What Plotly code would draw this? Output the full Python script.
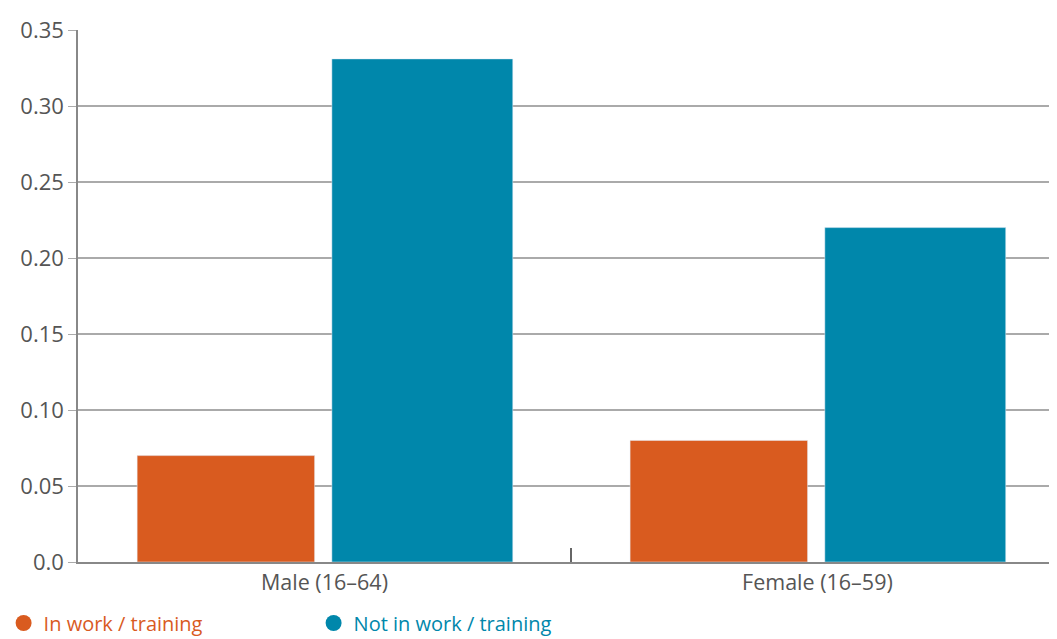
import plotly.graph_objects as go

categories = ["Male (16–64)", "Female (16–59)"]
in_work = [0.07, 0.08]
not_in_work = [0.331, 0.22]
orange = "#d95b1f"
blue = "#0087ab"

fig = go.Figure()
xs = [0, 1]
fig.add_bar(x=xs, y=in_work, width=0.36, offset=-0.38, marker_color=orange, showlegend=False)
fig.add_bar(x=xs, y=not_in_work, width=0.367, offset=0.015, marker_color=blue, showlegend=False)
for name, c in [("In work / training", orange), ("Not in work / training", blue)]:
    fig.add_scatter(x=[None], y=[None], mode="markers",
                    marker=dict(symbol="circle", size=22, color=c),
                    name=f"<span style='color:{c}'>{name}</span>")

fig.update_layout(
    width=1049, height=631, plot_bgcolor="white", paper_bgcolor="white",
    margin=dict(l=70, r=0, t=22, b=77, autoexpand=False),
    font=dict(family="Open Sans, Lato, sans-serif", size=21, color="#555"),
    legend=dict(orientation="h", x=-0.076, y=-0.078, xanchor="left", yanchor="top",
                font=dict(size=20), itemwidth=30, entrywidth=265, tracegroupgap=0),
)
fig.update_xaxes(range=[-0.5, 1.486], tickvals=xs, ticktext=categories, ticks="", automargin=False,
                 tickfont=dict(size=21.5),
                 showline=True, linecolor="#888", linewidth=1.5, showgrid=False,
                 minor=dict(tickvals=[0.5], ticks="inside", ticklen=14, tickcolor="#666", tickwidth=2))
fig.update_yaxes(range=[0, 0.35], automargin=False, tickfont=dict(size=22),
                 tickvals=[0, 0.05, 0.1, 0.15, 0.2, 0.25, 0.3, 0.35],
                 ticktext=["0.0", "0.05", "0.10", "0.15", "0.20", "0.25", "0.30", "0.35"],
                 showgrid=True, gridcolor="#aaa", gridwidth=1.5, ticks="outside", ticklen=8,
                 tickcolor="#aaa", showline=True, linecolor="#888", linewidth=1.5, zeroline=False)
fig.write_html("out.html")
